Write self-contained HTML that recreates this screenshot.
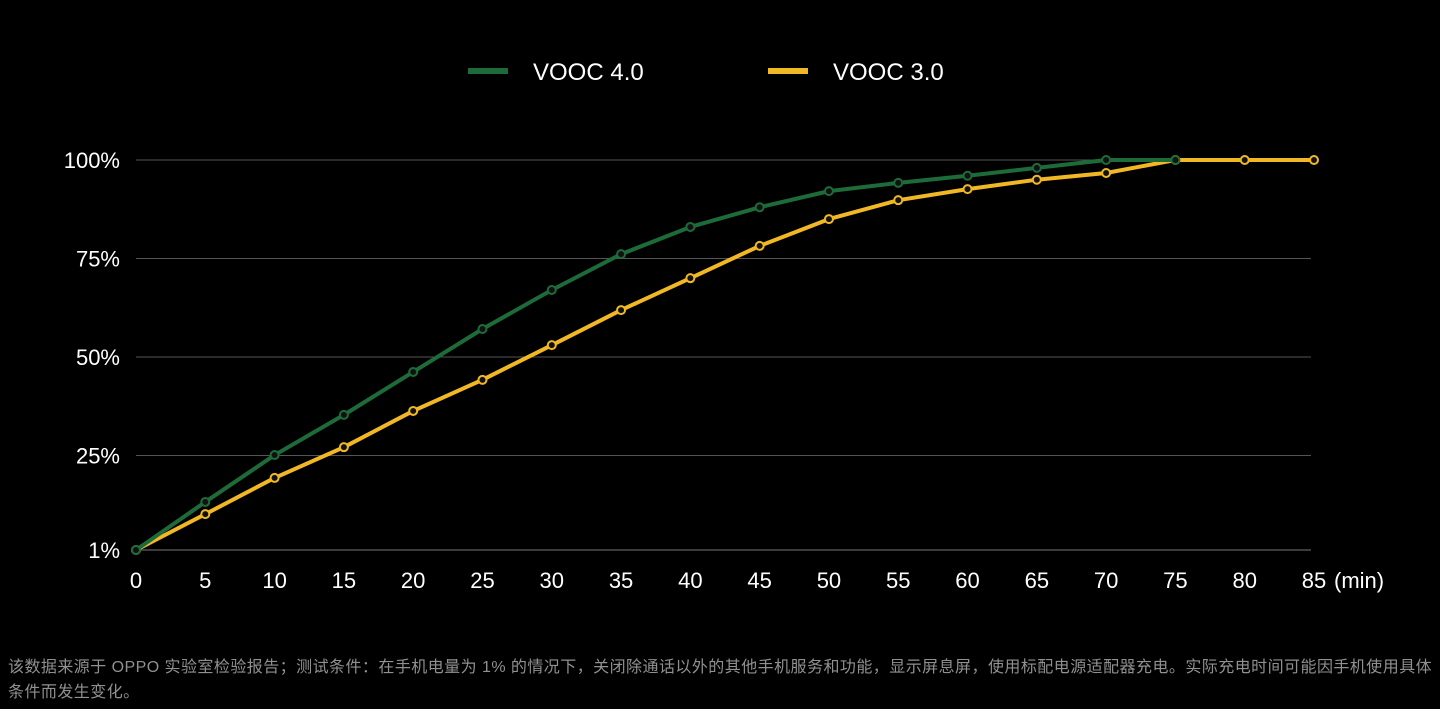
<!DOCTYPE html>
<html><head><meta charset="utf-8">
<style>
html,body{margin:0;padding:0;background:#000;width:1440px;height:709px;overflow:hidden;}
svg{display:block}
.foot{position:absolute;left:8px;top:655px;width:1428px;color:#909090;font-family:"Liberation Sans","Noto Sans CJK SC",sans-serif;font-size:16px;letter-spacing:0.45px;line-height:25px;}
</style></head>
<body>
<svg id="chart" width="1440" height="709" xmlns="http://www.w3.org/2000/svg" font-family="Liberation Sans, DejaVu Sans, sans-serif"></svg>
<div class="foot">该数据来源于 OPPO 实验室检验报告；测试条件：在手机电量为 1% 的情况下，关闭除通话以外的其他手机服务和功能，显示屏息屏，使用标配电源适配器充电。实际充电时间可能因手机使用具体条件而发生变化。</div>
<script>
const minutes4 = [0,5,10,15,20,25,30,35,40,45,50,55,60,65,70,75];
const vooc4 = [1,13.2,25.1,35.3,46.2,57.1,67,76.1,83,88,92.1,94.2,96,98,100,100];
const minutes3 = [0,5,10,15,20,25,30,35,40,45,50,55,60,65,70,75,80,85];
const vooc3 = [1,10.1,19.3,27.1,36.3,44.2,53,61.9,70,78.2,85,89.8,92.6,95,96.7,100,100,100];
const xTicks = [0,5,10,15,20,25,30,35,40,45,50,55,60,65,70,75,80,85];
const yTicks = [1,25,50,75,100];
const yTickLabels = ["1%","25%","50%","75%","100%"];

const NS="http://www.w3.org/2000/svg";
const svg=document.getElementById('chart');
const x=v=>136+(v-0)/85*(1314-136);
const y=v=>550-(v-1)/99*390;
function mk(tag,attrs,parent){const e=document.createElementNS(NS,tag);for(const k in attrs)e.setAttribute(k,attrs[k]);(parent||svg).appendChild(e);return e;}

yTicks.forEach((t,i)=>{
  const g=mk('line',{x1:136,x2:1311,y1:y(t),y2:y(t),stroke:i===0?'#777':'#555','stroke-width':1});
  
  
  const tx=mk('text',{x:120,y:y(t)+8,'text-anchor':'end',fill:'#fff','font-size':22});
  tx.textContent=yTickLabels[i];
  
  
});
xTicks.forEach(t=>{
  const tx=mk('text',{x:x(t),y:588,'text-anchor':'middle',fill:'#fff','font-size':22});
  tx.textContent=t;
  
  
});
const unit=mk('text',{x:1334,y:588,fill:'#fff','font-size':22});
unit.textContent='(min)';



function series(xs,vs,color,name){
  const pts=xs.map((m,i)=>x(m)+','+y(vs[i])).join(' ');
  const pl=mk('polyline',{points:pts,fill:'none',stroke:color,'stroke-width':4,'stroke-linejoin':'round'});
  
  
  xs.forEach((m,i)=>{
    const c=mk('circle',{cx:x(m),cy:y(vs[i]),r:4,fill:'#111',stroke:color,'stroke-width':2});
    
    
  });
}
series(minutes3,vooc3,'#f2b824','vooc3');
series(minutes4,vooc4,'#1e6b3a','vooc4');

function legend(x0,color,label,name){
  const l=mk('line',{x1:x0,x2:x0+40,y1:71,y2:71,stroke:color,'stroke-width':6});
  
  
  const t=mk('text',{x:x0+65,y:80,fill:'#fff','font-size':24});
  t.textContent=label;
  
  
}
legend(468,'#1e6b3a','VOOC 4.0','vooc4');
legend(768,'#f2b824','VOOC 3.0','vooc3');
</script>
</body></html>
